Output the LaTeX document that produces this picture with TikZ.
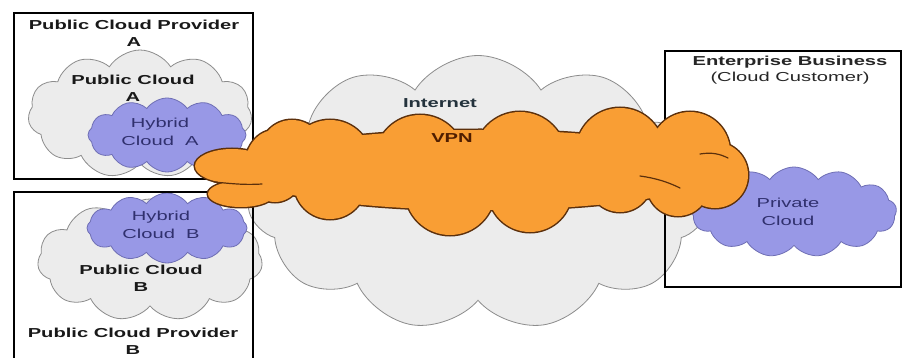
\documentclass[tikz,border=0pt]{standalone}
\usepackage{fontspec}
\setmainfont[FakeStretch=1.55]{Liberation Sans}
\usetikzlibrary{shapes.symbols}

\definecolor{cloudfill}{RGB}{236,236,236}
\definecolor{cloudedge}{RGB}{140,140,140}
\definecolor{hybfill}{RGB}{152,152,230}
\definecolor{hybedge}{RGB}{110,110,180}
\definecolor{vpnfill}{RGB}{249,158,52}
\definecolor{vpnline}{RGB}{92,48,12}
\definecolor{hybtext}{RGB}{48,48,110}
\definecolor{nettext}{RGB}{35,50,60}
\definecolor{vpntext}{RGB}{80,30,0}

\tikzset{
  cloudbase/.style={cloud, cloud ignores aspect, inner sep=0pt, outer sep=0pt},
  pubcloud/.style={cloudbase, cloud puffs=11, cloud puff arc=115,
    draw=cloudedge, fill=cloudfill, line width=0.8pt},
  hybcloud/.style={cloudbase, cloud puffs=12, cloud puff arc=110,
    draw=hybedge, fill=hybfill, line width=0.8pt},
  vpnstroke/.style={draw=vpnline, line width=3pt},
  vpnpaint/.style={fill=vpnfill},
  crease/.style={draw=vpnline, line width=1.2pt, line cap=round},
  frame/.style={draw=black, line width=1.8pt, inner sep=0pt, outer sep=0pt},
  heading/.style={font=\fontsize{13}{17}\selectfont\bfseries, align=center,
    inner sep=0pt, text=black!90},
  hybtxt/.style={font=\fontsize{13}{18}\selectfont, align=center,
    inner sep=0pt, text=hybtext},
}

% the VPN tunnel is the union of these blobs
\newcommand\vpnblobs{
  (480,170) ellipse [x radius=240, y radius=40]
  (232,166) ellipse [x radius=37, y radius=17]
  (241,194) ellipse [x radius=33, y radius=13]
  (275,166) ellipse [x radius=30, y radius=36]
  (292,152) circle [radius=32]
  (330,162) circle [radius=42]
  (420,160) circle [radius=45]
  (520,158) circle [radius=46]
  (620,152) circle [radius=44]
  (690,152) circle [radius=40]
  (715,175) circle [radius=33]
  (330,183) circle [radius=36]
  (450,190) circle [radius=45]
  (530,190) circle [radius=42]
  (620,180) circle [radius=32]
  (678,185) circle [radius=31]
}

\begin{document}
\begin{tikzpicture}[x=1pt,y=-1pt]
\useasboundingbox (0,0) rectangle (903,358);
\clip (0,0) rectangle (903,358);
\fill[white] (0,0) rectangle (903,358);

% grey public clouds and the Internet
\node[pubcloud, minimum width=224, minimum height=128] (pubA) at (140,114) {};
\node[pubcloud, minimum width=225, minimum height=122] (pubB) at (150,260) {};
\node[pubcloud, cloud puffs=11, minimum width=462, minimum height=275] (net) at (478,193) {};

% lavender hybrid and private clouds
\node[hybcloud, minimum width=158, minimum height=74] (hybA) at (167,135) {};
\node[hybcloud, minimum width=160, minimum height=70] (hybB) at (167,228) {};
\node[hybcloud, cloud puffs=13, minimum width=205, minimum height=90] (priv) at (794,212) {};

% provider and enterprise frames
\node[frame, minimum width=239, minimum height=166] (provA) at (133.5,96) {};
\node[frame, minimum width=239, minimum height=190] (provB) at (133.5,287) {};
\node[frame, minimum width=236, minimum height=236] (ent) at (783,169) {};

% VPN tunnel: outline first, then the fill covers the inner half of it
\path[vpnstroke] \vpnblobs;
\path[vpnpaint] \vpnblobs;
\path[crease] (214,182) .. controls (235,184) and (245,185) .. (262,184);
\path[crease] (700,154) .. controls (712,152) and (720,154) .. (728,158);
\path[crease] (640,176) .. controls (655,178) and (668,182) .. (680,188);

% labels
\node[heading] (tA) at (134,33.5) {Public Cloud Provider\\A};
\node[heading] (tpA) at (133,88.5) {Public Cloud\\A};
\node[hybtxt] (thA) at (160,132) {Hybrid\\Cloud\ \ A};
\node[hybtxt] (thB) at (161,225) {Hybrid\\Cloud\ \ B};
\node[heading] (tpB) at (141,278.5) {Public Cloud\\B};
\node[heading] (tB) at (133,341) {Public Cloud Provider\\B};
\node[heading, text=nettext] (tnet) at (440,103) {Internet};
\node[heading, text=vpntext] (tvpn) at (452,138) {VPN};
\node[font=\fontsize{13}{16}\selectfont, align=center, inner sep=0pt, text=black!85] (tent) at (790,70)
  {\textbf{Enterprise Business}\\(Cloud Customer)};
\node[hybtxt] (tpriv) at (788,212) {Private\\Cloud};
\end{tikzpicture}
\end{document}
